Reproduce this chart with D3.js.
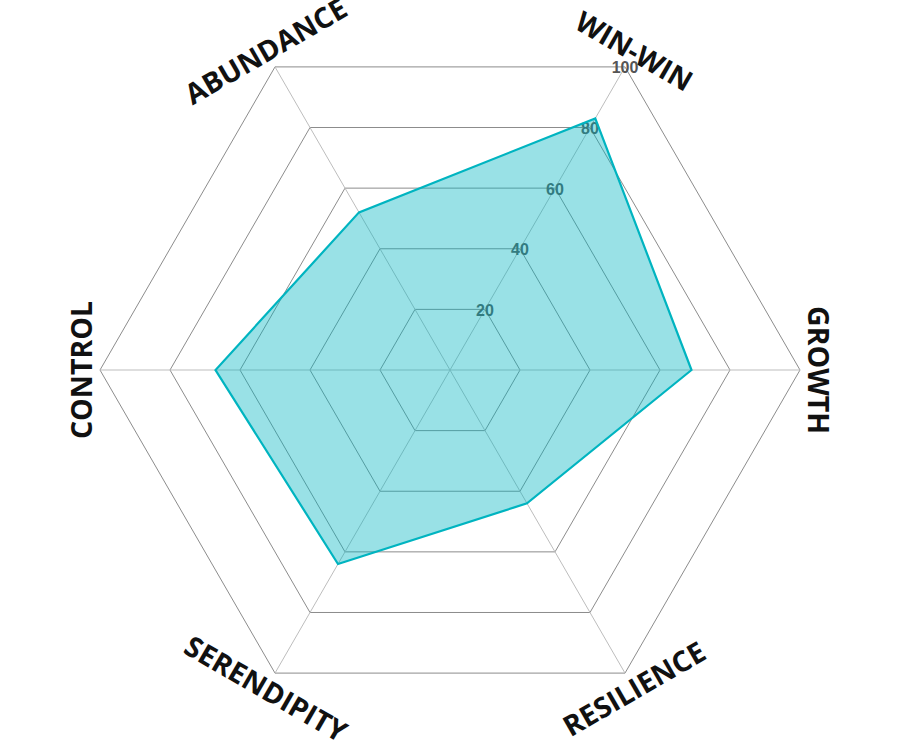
<!DOCTYPE html>
<html><head><meta charset="utf-8">
<script src="https://cdn.jsdelivr.net/npm/d3@7"></script>
<style>body{margin:0;background:#fff}</style>
</head><body>
<svg id="chart" width="900" height="740"></svg>
<script>
const axes = ["WIN-WIN","GROWTH","RESILIENCE","SERENDIPITY","CONTROL","ABUNDANCE"];
const values = [83, 69, 44, 64, 67, 52];
const ticks = [20, 40, 60, 80, 100];

const svg = d3.select("#chart");
const cx = 450, cy = 370, R = 350;
const r = d3.scaleLinear().domain([0, 100]).range([0, R]);
const angle = i => (-60 + i * 60) * Math.PI / 180;
const pt = (i, v) => [cx + r(v) * Math.cos(angle(i)), cy + r(v) * Math.sin(angle(i))];

const g = svg.append("g");
ticks.forEach(t => {
  g.append("polygon")
    .attr("points", axes.map((a, i) => pt(i, t).join(",")).join(" "))
    .attr("fill", "none").attr("stroke", "#6e6e6e").attr("stroke-width", 0.8);
});
axes.forEach((a, i) => {
  const p = pt(i, 100);
  g.append("line").attr("x1", cx).attr("y1", cy).attr("x2", p[0]).attr("y2", p[1])
    .attr("stroke", "#bdbdbd").attr("stroke-width", 1);
});
ticks.forEach(t => {
  const p = pt(0, t);
  g.append("text").attr("x", p[0]).attr("y", p[1]).attr("dy", "0.4em")
    .attr("text-anchor", "middle")
    .attr("font-family", "Liberation Sans, Arial, sans-serif")
    .attr("font-weight", "bold").attr("font-size", 16)
    .attr("fill", "#555").text(t);
});
const line = d3.line().curve(d3.curveLinearClosed);
svg.append("path")
  .attr("d", line(values.map((v, i) => pt(i, v))))
  .attr("fill", "#00b5c0").attr("fill-opacity", 0.4)
  .attr("stroke", "#00b4c0").attr("stroke-width", 2.2).attr("stroke-linejoin", "miter");
axes.forEach((a, i) => {
  const p = pt(i, 105.2);
  const deg = -60 + i * 60;
  const s = Math.sin(angle(i));
  let rot = (s > 0.1) ? deg - 90 : deg + 90;
  svg.append("text")
    .attr("transform", `translate(${p[0]},${p[1]}) rotate(${rot})`)
    .attr("text-anchor", "middle").attr("dy", "0.36em")
    .attr("font-family", "Open Sans, sans-serif").attr("font-weight", 700)
    .attr("font-size", 28.5).attr("fill", "#111")
    .text(a);
});
</script>
</body></html>
